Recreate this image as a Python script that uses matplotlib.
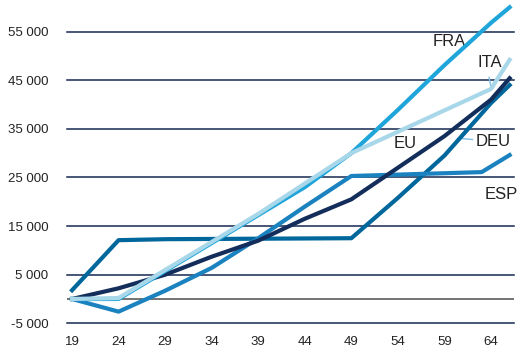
import matplotlib
matplotlib.use("Agg")
import matplotlib.pyplot as plt
import matplotlib.ticker as ticker

plt.rcParams['font.family'] = ['Liberation Sans', 'DejaVu Sans']

#----------------
# values (age -> cumulative amount)

eu_age = [19, 24, 29, 34, 39, 44, 49, 54, 59, 64, 66]
eu_val = [0, 2200, 5000, 8700, 12000, 16500, 20500, 27000, 33500, 41000, 45400]

ita_age = [19, 24, 39, 49, 64, 66]
ita_val = [0, 200, 17500, 30000, 43200, 49200]

fra_age = [19, 24, 34, 44, 49, 54, 59, 64, 66]
fra_val = [0, 0, 11500, 23000, 30000, 38900, 48100, 56800, 60000]

esp_age = [19, 24, 29, 34, 39, 44, 49, 63, 66]
esp_val = [0, -2600, 1700, 6400, 12500, 19000, 25300, 26100, 29600]

deu_age = [19, 24, 29, 49, 54, 59, 64, 66]
deu_val = [1800, 12100, 12300, 12500, 20800, 29500, 40300, 44000]

yticks = [-5000, 5000, 15000, 25000, 35000, 45000, 55000]
xticks = [19, 24, 29, 34, 39, 44, 49, 54, 59, 64]

#----------------

fig = plt.figure(figsize=(5.22, 3.57), dpi=100)
ax = fig.add_axes([67/522, 1-323.3/357, (514-67)/522, 323.3/357])

grid_col = '#13284f'
for y in yticks:
    ax.axhline(y, color=grid_col, lw=1.1, zorder=1, clip_on=False)
ax.axhline(0, color='#4d4d4d', lw=1.1, zorder=1)

ax.plot(deu_age, deu_val, color='#00679c', lw=3, zorder=3)
ax.plot(esp_age, esp_val, color='#1b82c0', lw=3, zorder=3)
ax.plot(eu_age, eu_val, color='#142e5c', lw=3, zorder=4)
ax.plot(fra_age, fra_val, color='#1fa5da', lw=3, zorder=4)
ax.plot(ita_age, ita_val, color='#a9d7ea', lw=3, zorder=5)

ax.set_xlim(18.46, 66.47)
ax.set_ylim(-5000, 61500)

ax.set_yticks(yticks)
ax.set_xticks(xticks)
ax.yaxis.set_major_formatter(ticker.FuncFormatter(lambda v, p: '{:,.0f}'.format(v).replace(',', ' ')))
ax.tick_params(length=0, labelsize=9.5, colors='#222222')
ax.tick_params(axis='y', pad=13.5)
ax.tick_params(axis='x', pad=9)
for s in ax.spines.values():
    s.set_visible(False)

# series labels
lab = dict(fontsize=12, color='#222222', ha='center', va='center')
ax.text(59.5, 52900, 'FRA', **lab)
ax.text(63.9, 48600, 'ITA', **lab)
ax.text(54.8, 32000, 'EU', **lab)
ax.text(64.2, 32300, 'DEU', **lab)
ax.text(65.1, 21500, 'ESP', **lab)

# leader lines
ax.plot([63.8, 64.0], [45600, 43600], color='#7fc0e6', lw=1)
ax.plot([60.9, 62.0], [33000, 32800], color='#7fc0e6', lw=1)

fig.savefig('out.png', dpi=100)
